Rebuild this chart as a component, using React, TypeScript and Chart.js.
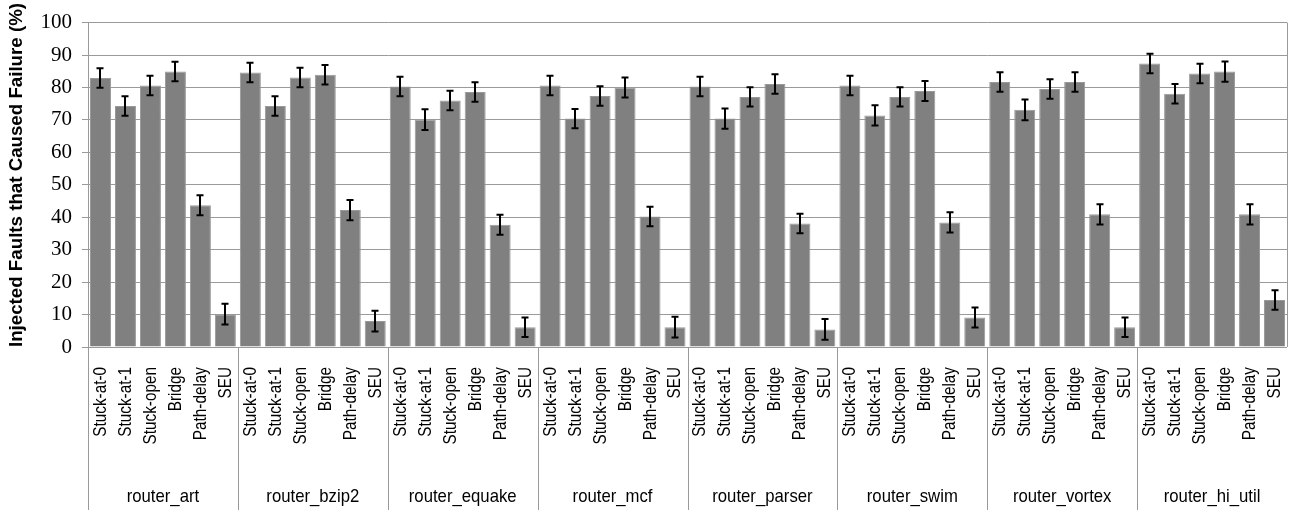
import React, { useEffect, useRef } from "react";
import { Chart, registerables } from "chart.js";

Chart.register(...registerables);

const groups = ["router_art", "router_bzip2", "router_equake", "router_mcf", "router_parser", "router_swim", "router_vortex", "router_hi_util"];
const faults = ["Stuck-at-0", "Stuck-at-1", "Stuck-open", "Bridge", "Path-delay", "SEU"];

const routerArt = [82.9, 74.3, 80.6, 84.9, 43.7, 10.1];
const routerBzip2 = [84.6, 74.3, 83.1, 83.9, 42.2, 8.0];
const routerEquake = [80.3, 70.1, 76.0, 78.6, 37.7, 6.1];
const routerMcf = [80.6, 70.4, 77.4, 80.0, 40.2, 6.1];
const routerParser = [80.3, 70.4, 77.1, 81.1, 38.1, 5.4];
const routerSwim = [80.6, 71.4, 77.1, 78.9, 38.4, 9.1];
const routerVortex = [81.7, 73.1, 79.5, 81.7, 40.9, 6.1];
const routerHiUtil = [87.4, 78.1, 84.3, 84.9, 40.9, 14.5];

const errArt = [3.0, 3.0, 3.0, 3.0, 3.1, 3.2];
const errBzip2 = [3.0, 3.0, 3.0, 3.0, 3.1, 3.2];
const errEquake = [3.0, 3.2, 3.0, 3.0, 3.1, 3.0];
const errMcf = [3.0, 3.0, 3.0, 3.1, 3.0, 3.2];
const errParser = [3.0, 3.1, 3.0, 3.0, 3.0, 3.2];
const errSwim = [3.0, 3.1, 3.0, 3.1, 3.1, 3.1];
const errVortex = [3.0, 3.2, 3.0, 3.0, 3.1, 3.0];
const errHiUtil = [3.0, 3.0, 3.0, 3.1, 3.1, 3.0];

const yTicksMin = 0;
const yTicksMax = 100;
const yTickStep = 10;
const yTitle = "Injected Faults that Caused Failure (%)";

const groupValues = [routerArt, routerBzip2, routerEquake, routerMcf, routerParser, routerSwim, routerVortex, routerHiUtil];
const groupErrors = [errArt, errBzip2, errEquake, errMcf, errParser, errSwim, errVortex, errHiUtil];

export default function App() {
  const canvasRef = useRef<HTMLCanvasElement | null>(null);

  useEffect(() => {
    if (!canvasRef.current) return;
    const labels: string[] = [];
    const values: number[] = [];
    const errors: number[] = [];
    groups.forEach((g, gi) => {
      faults.forEach((f, fi) => {
        labels.push(g + "|" + f);
        values.push(groupValues[gi][fi]);
        errors.push(groupErrors[gi][fi]);
      });
    });

    const GRID = "#9a9a9a";

    const errorBarPlugin = {
      id: "errorBars",
      afterDatasetsDraw(chart: any) {
        const ctx = chart.ctx;
        const meta = chart.getDatasetMeta(0);
        const y = chart.scales.y;
        ctx.save();
        ctx.strokeStyle = "#000";
        ctx.lineWidth = 2;
        meta.data.forEach((bar: any, i: number) => {
          const x = Math.round(bar.x);
          const top = y.getPixelForValue(values[i] + errors[i]);
          const bot = y.getPixelForValue(values[i] - errors[i]);
          ctx.beginPath();
          ctx.moveTo(x, top);
          ctx.lineTo(x, bot);
          ctx.moveTo(x - 3.5, top);
          ctx.lineTo(x + 3.5, top);
          ctx.moveTo(x - 3.5, bot);
          ctx.lineTo(x + 3.5, bot);
          ctx.stroke();
        });
        ctx.restore();
      },
    };

    const labelsPlugin = {
      id: "multiLabels",
      afterDraw(chart: any) {
        const ctx = chart.ctx;
        const xs = chart.scales.x;
        const area = chart.chartArea;
        const H = chart.height;
        ctx.save();
        // right border of plot
        ctx.strokeStyle = GRID;
        ctx.lineWidth = 1;
        ctx.beginPath();
        ctx.moveTo(Math.round(area.right) + 0.5, area.top);
        ctx.lineTo(Math.round(area.right) + 0.5, area.bottom);
        ctx.stroke();

        // group separators
        const catW = (area.right - area.left) / labels.length;
        for (let g = 0; g < groups.length; g++) {
          const x = Math.round(area.left + g * faults.length * catW) + 0.5;
          ctx.beginPath();
          ctx.moveTo(x, area.bottom);
          ctx.lineTo(x, H);
          ctx.stroke();
        }

        // category labels (rotated)
        ctx.fillStyle = "#000";
        ctx.font = "18px 'Liberation Sans', Arial, sans-serif";
        ctx.textBaseline = "middle";
        ctx.textAlign = "right";
        labels.forEach((lab, i) => {
          const text = lab.split("|")[1];
          const x = xs.getPixelForValue(i) + 0.5;
          ctx.save();
          ctx.translate(x, area.bottom + 20);
          ctx.rotate(-Math.PI / 2);
          ctx.scale(0.85, 1);
          ctx.fillText(text, 0, 0);
          ctx.restore();
        });

        // group labels
        ctx.font = "19px 'Liberation Sans', Arial, sans-serif";
        ctx.textAlign = "center";
        ctx.textBaseline = "alphabetic";
        groups.forEach((g, gi) => {
          const cx = area.left + (gi + 0.5) * faults.length * catW;
          ctx.save();
          ctx.translate(cx, 502);
          ctx.scale(0.88, 1);
          ctx.fillText(g, 0, 0);
          ctx.restore();
        });

        // y-axis title
        ctx.font = "bold 19px 'Liberation Sans', Arial, sans-serif";
        ctx.textAlign = "center";
        ctx.textBaseline = "middle";
        const w = ctx.measureText(yTitle).width;
        const s = Math.min(1, 344 / w);
        ctx.save();
        ctx.translate(17, 175);
        ctx.rotate(-Math.PI / 2);
        ctx.scale(s, 1);
        ctx.fillText(yTitle, 0, 0);
        ctx.restore();

        ctx.restore();
      },
    };

    const chart = new Chart(canvasRef.current, {
      type: "bar",
      data: {
        labels,
        datasets: [
          {
            data: values,
            backgroundColor: "#808080",
            borderColor: "#999999",
            borderWidth: 1,
            barPercentage: 0.84,
            categoryPercentage: 1,
          },
        ],
      },
      options: {
        animation: false,
        responsive: true,
        maintainAspectRatio: false,
        layout: { padding: { top: 15, right: 4, bottom: 163, left: 0 } },
        plugins: {
          legend: { display: false },
          tooltip: { enabled: false },
          title: { display: false },
        },
        scales: {
          x: {
            display: false,
          },
          y: {
            min: yTicksMin,
            max: yTicksMax,
            afterFit(scale: any) {
              scale.width = 88;
            },
            border: { display: true, color: GRID, width: 1 },
            grid: { color: GRID, lineWidth: 1, tickLength: 6, drawTicks: true },
            ticks: {
              stepSize: yTickStep,
              padding: 10,
              color: "#000",
              font: { family: "'Liberation Serif', 'Times New Roman', serif", size: 21 },
            },
          },
        },
      },
      plugins: [errorBarPlugin, labelsPlugin],
    });

    return () => chart.destroy();
  }, []);

  return (
    <div style={{ position: "fixed", left: 0, top: 0, width: 1291, height: 510, background: "#fff" }}>
      <canvas ref={canvasRef} />
    </div>
  );
}
